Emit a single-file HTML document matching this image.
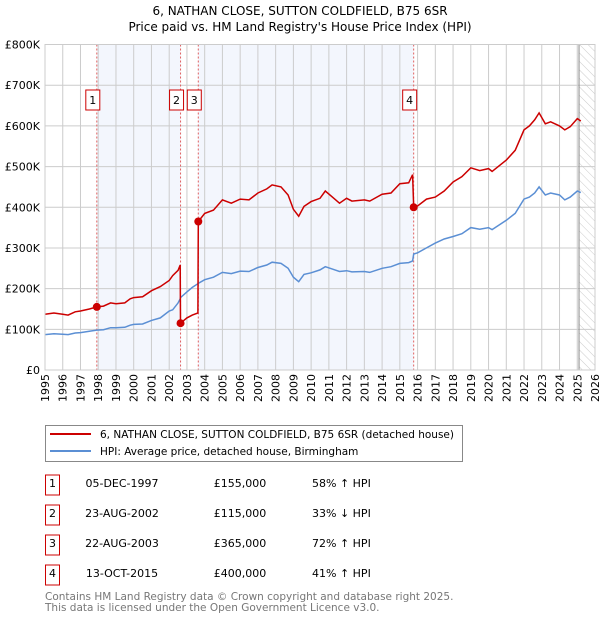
<!DOCTYPE html>
<html><head><meta charset="utf-8"><style>
body{margin:0;background:#fff;font-family:"DejaVu Sans","Liberation Sans",sans-serif}
svg text{font-family:"DejaVu Sans","Liberation Sans",sans-serif}
</style></head><body>
<svg id="c" width="600" height="620" xmlns="http://www.w3.org/2000/svg"></svg>
<script>
const times=[1995.0,1995.5,1996.0,1996.3,1996.7,1997.0,1997.5,1997.92,1998.3,1998.7,1999.0,1999.5,1999.8,2000.0,2000.5,2001.0,2001.5,2002.0,2002.2,2002.5,2002.62,2002.64,2003.0,2003.3,2003.62,2003.64,2004.0,2004.5,2005.0,2005.5,2006.0,2006.5,2007.0,2007.5,2007.8,2008.3,2008.7,2009.0,2009.3,2009.6,2010.0,2010.5,2010.8,2011.2,2011.6,2012.0,2012.3,2013.0,2013.3,2014.0,2014.5,2015.0,2015.5,2015.72,2015.78,2016.0,2016.5,2017.0,2017.5,2018.0,2018.5,2019.0,2019.5,2020.0,2020.2,2021.0,2021.5,2022.0,2022.3,2022.6,2022.85,2023.2,2023.5,2024.0,2024.3,2024.6,2025.0,2025.2];
const hpiValues=[87,89,88,87,91,92,95,98,99,104,104,105,110,112,113,122,128,145,148,165,175,178,192,203,212,213,222,228,240,237,243,242,252,258,265,262,250,228,217,235,239,246,254,248,242,244,241,242,240,250,254,262,264,268,285,288,300,312,322,328,335,350,346,350,345,368,385,420,425,435,450,430,435,430,418,425,440,436];
const priceValues=[137,140,137,135,143,145,150,155,157,165,163,165,175,178,180,195,205,220,232,245,258,115,128,135,140,365,385,393,418,410,420,418,435,445,455,450,430,395,378,402,414,422,440,425,410,422,415,418,415,432,435,458,460,480,400,403,420,425,440,462,475,497,490,495,488,516,540,590,600,615,632,605,610,600,590,598,618,612];
const sales=[{n:"1",t:1997.92,v:155},{n:"2",t:2002.64,v:115},{n:"3",t:2003.64,v:365},{n:"4",t:2015.78,v:400}];
const yTicks=[0,100,200,300,400,500,600,700,800];
const yLabels=["£0","£100K","£200K","£300K","£400K","£500K","£600K","£700K","£800K"];
const years=[1995,1996,1997,1998,1999,2000,2001,2002,2003,2004,2005,2006,2007,2008,2009,2010,2011,2012,2013,2014,2015,2016,2017,2018,2019,2020,2021,2022,2023,2024,2025,2026];
const rows=[["1","05-DEC-1997","£155,000","58% ↑ HPI"],["2","23-AUG-2002","£115,000","33% ↓ HPI"],["3","22-AUG-2003","£365,000","72% ↑ HPI"],["4","13-OCT-2015","£400,000","41% ↑ HPI"]];

const L=45,R=595,T=44.5,B=370;
const X=t=>L+(t-1995)/31*(R-L);
const Y=v=>B-v/800*(B-T);
const svg=document.getElementById('c');
const NS="http://www.w3.org/2000/svg";
function mk(tag,a,parent){const e=document.createElementNS(NS,tag);for(const k in a)e.setAttribute(k,a[k]);(parent||svg).appendChild(e);return e;}

let t1=mk('text',{x:300,y:15,'text-anchor':'middle','font-size':12,fill:'#000'});t1.textContent="6, NATHAN CLOSE, SUTTON COLDFIELD, B75 6SR";


let t2=mk('text',{x:300,y:31,'text-anchor':'middle','font-size':12,fill:'#000'});t2.textContent="Price paid vs. HM Land Registry's House Price Index (HPI)";



const sh1=mk('rect',{x:X(sales[0].t),y:T,width:X(sales[1].t)-X(sales[0].t),height:B-T,fill:'#f3f6fd'});


const sh2=mk('rect',{x:X(sales[2].t),y:T,width:X(sales[3].t)-X(sales[2].t),height:B-T,fill:'#f3f6fd'});



const defs=mk('defs',{});
const pat=mk('pattern',{id:'h',width:6,height:6,patternUnits:'userSpaceOnUse',patternTransform:'rotate(-45)'},defs);
mk('line',{x1:0,y1:0,x2:0,y2:6,stroke:'#ccc','stroke-width':1},pat);
const hx=X(2025.1);
const hr=mk('rect',{x:hx,y:T,width:R-hx,height:B-T,fill:'url(#h)'});



years.forEach(y=>{const l=mk('line',{x1:X(y),x2:X(y),y1:T,y2:B,stroke:'#ccc','stroke-width':1});


const tx=mk('text',{transform:`translate(${X(y)+4},${B+32}) rotate(-90)`,'font-size':11,fill:'#000'});tx.textContent=y;

});
yTicks.forEach((v,i)=>{const l=mk('line',{x1:L,x2:R,y1:Y(v),y2:Y(v),stroke:'#ccc','stroke-width':1});


const tx=mk('text',{x:40,y:Y(v)+4,'text-anchor':'end','font-size':11,fill:'#000'});tx.textContent=yLabels[i];

});
const vl=mk('line',{x1:X(2025.1),x2:X(2025.1),y1:T,y2:B,stroke:'#888','stroke-width':1});



sales.forEach(s=>{const l=mk('line',{x1:X(s.t),x2:X(s.t),y1:T,y2:B,stroke:'#e06060','stroke-width':1,'stroke-dasharray':'2,2'});


const g=mk('g',{});


const w=14,cx=X(s.t)-4;
mk('rect',{x:cx-w/2,y:90,width:w,height:20,fill:'#fff',stroke:'#c00','stroke-width':1},g);
const tt=mk('text',{x:cx,y:104,'text-anchor':'middle','font-size':11,fill:'#000'},g);tt.textContent=s.n;});

const hp=mk('path',{d:times.map((t,i)=>(i?'L':'M')+X(t).toFixed(1)+','+Y(hpiValues[i]).toFixed(1)).join(''),fill:'none',stroke:'#5b8fd4','stroke-width':1.5});


const pp=mk('path',{d:times.map((t,i)=>(i?'L':'M')+X(t).toFixed(1)+','+Y(priceValues[i]).toFixed(1)).join(''),fill:'none',stroke:'#cc0000','stroke-width':1.5});


sales.forEach(s=>{const c=mk('circle',{cx:X(s.t),cy:Y(s.v),r:4,fill:'#cc0000'});

});

const ax=mk('rect',{x:L,y:T,width:R-L,height:B-T,fill:'none',stroke:'#ccc'});



const lg=mk('g',{});


mk('rect',{x:45.5,y:425.5,width:417,height:36,fill:'#fff',stroke:'#888'},lg);
mk('line',{x1:50,x2:91,y1:434,y2:434,stroke:'#cc0000','stroke-width':2},lg);
mk('line',{x1:50,x2:91,y1:451,y2:451,stroke:'#5b8fd4','stroke-width':2},lg);
let l1=mk('text',{x:100,y:438,'font-size':10.5,fill:'#000'},lg);l1.textContent="6, NATHAN CLOSE, SUTTON COLDFIELD, B75 6SR (detached house)";
let l2=mk('text',{x:100,y:455,'font-size':10.5,fill:'#000'},lg);l2.textContent="HPI: Average price, detached house, Birmingham";

rows.forEach((r,i)=>{const y=483+i*30;const g=mk('g',{});


mk('rect',{x:45.5,y:y-8,width:14,height:20,fill:'#fff',stroke:'#c00'},g);
let a=mk('text',{x:52.5,y:y+4,'text-anchor':'middle','font-size':11},g);a.textContent=r[0];
let b=mk('text',{x:122,y:y+4,'text-anchor':'middle','font-size':11},g);b.textContent=r[1];
let c=mk('text',{x:240,y:y+4,'text-anchor':'middle','font-size':11},g);c.textContent=r[2];
let d=mk('text',{x:312,y:y+4,'font-size':11},g);d.textContent=r[3];});

let f1=mk('text',{x:45,y:600,'font-size':10.5,fill:'#777'});f1.textContent="Contains HM Land Registry data © Crown copyright and database right 2025.";


let f2=mk('text',{x:45,y:611,'font-size':10.5,fill:'#777'});f2.textContent="This data is licensed under the Open Government Licence v3.0.";


</script>
</body></html>
